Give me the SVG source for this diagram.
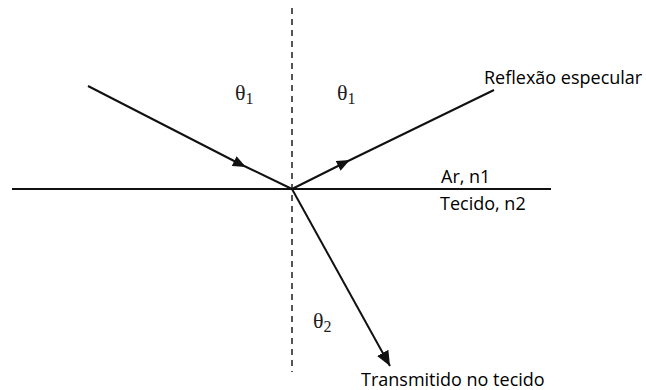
<svg xmlns="http://www.w3.org/2000/svg" width="646" height="390" viewBox="0 0 646 390">
<style>
.ray{stroke:#111;stroke-width:2;fill:none}
.lbl{font-family:"Open Sans","Noto Sans",sans-serif;font-size:18px;fill:#000}
.th{font-family:"Liberation Serif","DejaVu Serif",serif;font-size:22px;fill:#222}
.sub{font-size:16px}
</style>
<defs>
<marker id="mid" viewBox="0 0 12 10" refX="6" refY="5" markerWidth="13" markerHeight="11" markerUnits="userSpaceOnUse" orient="auto"><path d="M0,0 L12,5 L0,10 Z" fill="#111"/></marker>
<marker id="end" viewBox="0 0 14 12" refX="14" refY="6" markerWidth="15" markerHeight="13" markerUnits="userSpaceOnUse" orient="auto"><path d="M0,0 L14,6 L0,12 Z" fill="#111"/></marker>
</defs>
<g id="normal"><line x1="292" y1="8" x2="292" y2="372" stroke="#555" stroke-width="2" stroke-dasharray="6 5"/></g>
<g id="interface"><line x1="12" y1="189" x2="551" y2="189" stroke="#111" stroke-width="2"/></g>
<g id="connectors">
<polyline class="ray" points="88,86 240,164 292,189" marker-mid="url(#mid)"/>
<polyline class="ray" points="292,189 344,163 494,90" marker-mid="url(#mid)"/>
<line class="ray" x1="292" y1="189" x2="390" y2="366" marker-end="url(#end)"/>
</g>
<g id="theta1-left"><text class="th" x="235" y="100">θ<tspan class="sub" dy="4">1</tspan></text></g>
<g id="theta1-right"><text class="th" x="337" y="100">θ<tspan class="sub" dy="4">1</tspan></text></g>
<g id="theta2"><text class="th" x="313" y="328">θ<tspan class="sub" dy="4">2</tspan></text></g>
<g id="reflexao"><text class="lbl" x="484" y="84">Reflexão especular</text></g>
<g id="ar"><text class="lbl" x="441" y="183">Ar, n1</text></g>
<g id="tecido"><text class="lbl" x="440" y="210">Tecido, n2</text></g>
<g id="transmitido"><text class="lbl" x="361" y="386">Transmitido no tecido</text></g>
</svg>
